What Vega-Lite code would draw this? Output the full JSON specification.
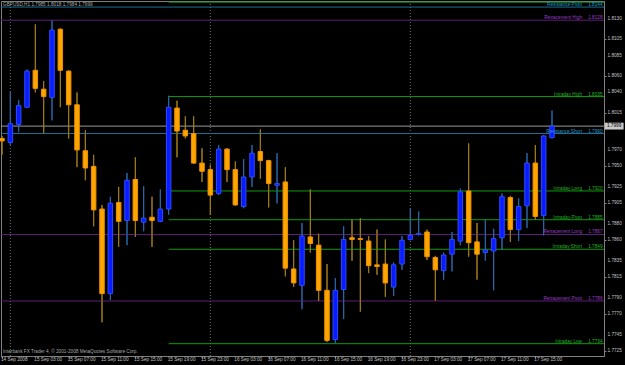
{
  "$schema": "https://vega.github.io/schema/vega-lite/v6.json",
  "width": 603,
  "height": 355,
  "autosize": "none",
  "padding": {"left": 1, "top": 1, "right": 21, "bottom": 9},
  "background": "#000000",
  "config": {
    "view": {"stroke": "#808080", "strokeWidth": 1},
    "font": "Liberation Sans",
    "axis": {"grid": false, "domainColor": "#808080", "tickColor": "#808080", "labels": false, "tickSize": 2, "title": null}
  },
  "datasets": {
    "candles": [
      {"t": -1, "o": 1.7984, "h": 1.7987, "l": 1.7964, "c": 1.7981},
      {"t": 0, "o": 1.7979, "h": 1.8041, "l": 1.7976, "c": 1.8002},
      {"t": 1, "o": 1.8001, "h": 1.8031, "l": 1.7992, "c": 1.8024},
      {"t": 2, "o": 1.8022, "h": 1.8068, "l": 1.8021, "c": 1.8066},
      {"t": 3, "o": 1.8067, "h": 1.8123, "l": 1.8040, "c": 1.8045},
      {"t": 4, "o": 1.8044, "h": 1.8054, "l": 1.7990, "c": 1.8035},
      {"t": 5, "o": 1.8034, "h": 1.8128, "l": 1.8006, "c": 1.8116},
      {"t": 6, "o": 1.8117, "h": 1.8118, "l": 1.8022, "c": 1.8067},
      {"t": 7, "o": 1.8066, "h": 1.8067, "l": 1.7984, "c": 1.8025},
      {"t": 8, "o": 1.8025, "h": 1.8040, "l": 1.7949, "c": 1.7970},
      {"t": 9, "o": 1.7969, "h": 1.7994, "l": 1.7933, "c": 1.7948},
      {"t": 10, "o": 1.7950, "h": 1.7964, "l": 1.7877, "c": 1.7897},
      {"t": 11, "o": 1.7898, "h": 1.7903, "l": 1.7760, "c": 1.7795},
      {"t": 12, "o": 1.7795, "h": 1.7913, "l": 1.7787, "c": 1.7905},
      {"t": 13, "o": 1.7906, "h": 1.7925, "l": 1.7852, "c": 1.7883},
      {"t": 14, "o": 1.7884, "h": 1.7942, "l": 1.7854, "c": 1.7933},
      {"t": 15, "o": 1.7934, "h": 1.7961, "l": 1.7864, "c": 1.7884},
      {"t": 16, "o": 1.7882, "h": 1.7926, "l": 1.7871, "c": 1.7887},
      {"t": 17, "o": 1.7888, "h": 1.7913, "l": 1.7852, "c": 1.7884},
      {"t": 18, "o": 1.7883, "h": 1.7922, "l": 1.7882, "c": 1.7898},
      {"t": 19, "o": 1.7898, "h": 1.8036, "l": 1.7891, "c": 1.8022},
      {"t": 20, "o": 1.8021, "h": 1.8030, "l": 1.7961, "c": 1.7993},
      {"t": 21, "o": 1.7994, "h": 1.8011, "l": 1.7984, "c": 1.7987},
      {"t": 22, "o": 1.7990, "h": 1.8011, "l": 1.7953, "c": 1.7954},
      {"t": 23, "o": 1.7954, "h": 1.7972, "l": 1.7931, "c": 1.7944},
      {"t": 24, "o": 1.7946, "h": 1.7952, "l": 1.7891, "c": 1.7915},
      {"t": 25, "o": 1.7917, "h": 1.7976, "l": 1.7915, "c": 1.7971},
      {"t": 26, "o": 1.7971, "h": 1.7972, "l": 1.7931, "c": 1.7946},
      {"t": 27, "o": 1.7946, "h": 1.7956, "l": 1.7902, "c": 1.7903},
      {"t": 28, "o": 1.7901, "h": 1.7959, "l": 1.7899, "c": 1.7937},
      {"t": 29, "o": 1.7937, "h": 1.7976, "l": 1.7925, "c": 1.7966},
      {"t": 30, "o": 1.7968, "h": 1.7995, "l": 1.7935, "c": 1.7957},
      {"t": 31, "o": 1.7957, "h": 1.7958, "l": 1.7900, "c": 1.7929},
      {"t": 32, "o": 1.7927, "h": 1.7966, "l": 1.7905, "c": 1.7929},
      {"t": 33, "o": 1.7931, "h": 1.7949, "l": 1.7816, "c": 1.7826},
      {"t": 34, "o": 1.7825, "h": 1.7860, "l": 1.7803, "c": 1.7808},
      {"t": 35, "o": 1.7805, "h": 1.7881, "l": 1.7776, "c": 1.7865},
      {"t": 36, "o": 1.7864, "h": 1.7922, "l": 1.7845, "c": 1.7856},
      {"t": 37, "o": 1.7854, "h": 1.7868, "l": 1.7786, "c": 1.7799},
      {"t": 38, "o": 1.7799, "h": 1.7831, "l": 1.7736, "c": 1.7738},
      {"t": 39, "o": 1.7739, "h": 1.7814, "l": 1.7734, "c": 1.7799},
      {"t": 40, "o": 1.7800, "h": 1.7877, "l": 1.7764, "c": 1.7861},
      {"t": 41, "o": 1.7863, "h": 1.7885, "l": 1.7835, "c": 1.7861},
      {"t": 42, "o": 1.7862, "h": 1.7887, "l": 1.7773, "c": 1.7861},
      {"t": 43, "o": 1.7859, "h": 1.7865, "l": 1.7820, "c": 1.7829},
      {"t": 44, "o": 1.7830, "h": 1.7873, "l": 1.7818, "c": 1.7828},
      {"t": 45, "o": 1.7831, "h": 1.7861, "l": 1.7791, "c": 1.7808},
      {"t": 46, "o": 1.7803, "h": 1.7833, "l": 1.7792, "c": 1.7830},
      {"t": 47, "o": 1.7831, "h": 1.7865, "l": 1.7824, "c": 1.7860},
      {"t": 48, "o": 1.7861, "h": 1.7899, "l": 1.7860, "c": 1.7866},
      {"t": 49, "o": 1.7867, "h": 1.7895, "l": 1.7866, "c": 1.7868},
      {"t": 50, "o": 1.7870, "h": 1.7873, "l": 1.7836, "c": 1.7840},
      {"t": 51, "o": 1.7839, "h": 1.7841, "l": 1.7786, "c": 1.7824},
      {"t": 52, "o": 1.7823, "h": 1.7845, "l": 1.7812, "c": 1.7842},
      {"t": 53, "o": 1.7843, "h": 1.7870, "l": 1.7822, "c": 1.7861},
      {"t": 54, "o": 1.7859, "h": 1.7923, "l": 1.7854, "c": 1.7919},
      {"t": 55, "o": 1.7920, "h": 1.7978, "l": 1.7840, "c": 1.7857},
      {"t": 56, "o": 1.7858, "h": 1.7881, "l": 1.7812, "c": 1.7843},
      {"t": 57, "o": 1.7845, "h": 1.7885, "l": 1.7835, "c": 1.7848},
      {"t": 58, "o": 1.7847, "h": 1.7874, "l": 1.7799, "c": 1.7862},
      {"t": 59, "o": 1.7863, "h": 1.7917, "l": 1.7848, "c": 1.7913},
      {"t": 60, "o": 1.7912, "h": 1.7914, "l": 1.7858, "c": 1.7873},
      {"t": 61, "o": 1.7873, "h": 1.7911, "l": 1.7859, "c": 1.7901},
      {"t": 62, "o": 1.7902, "h": 1.7966, "l": 1.7875, "c": 1.7954},
      {"t": 63, "o": 1.7954, "h": 1.7976, "l": 1.7885, "c": 1.7889},
      {"t": 64, "o": 1.7890, "h": 1.7988, "l": 1.7866, "c": 1.7987},
      {"t": 65, "o": 1.7985, "h": 1.8018, "l": 1.7984, "c": 1.7999}
    ],
    "levels": [
      {"name": "", "price": 1.8150, "kind": "intra"},
      {"name": "Resistance Pivot", "price": 1.8144, "kind": "res"},
      {"name": "Retracement High", "price": 1.8128, "kind": "ret"},
      {"name": "Intraday High", "price": 1.8035, "kind": "intra"},
      {"name": "Resistance Short", "price": 1.7990, "kind": "res"},
      {"name": "Intraday Long", "price": 1.7920, "kind": "intra"},
      {"name": "Intraday  Pivot", "price": 1.7885, "kind": "intra"},
      {"name": "Retracement Long", "price": 1.7867, "kind": "ret"},
      {"name": "Intraday Short", "price": 1.7849, "kind": "intra"},
      {"name": "Retracement Pivot", "price": 1.7786, "kind": "ret"},
      {"name": "Intraday  Low", "price": 1.7734, "kind": "intra"}
    ],
    "xticks": [
      {"t": -1, "lab": "14 Sep 2008"}, {"t": 3, "lab": "15 Sep 03:00"}, {"t": 7, "lab": "15 Sep 07:00"}, {"t": 11, "lab": "15 Sep 11:00"},
      {"t": 15, "lab": "15 Sep 15:00"}, {"t": 19, "lab": "15 Sep 19:00"}, {"t": 23, "lab": "15 Sep 23:00"}, {"t": 27, "lab": "16 Sep 03:00"},
      {"t": 31, "lab": "16 Sep 07:00"}, {"t": 35, "lab": "16 Sep 11:00"}, {"t": 39, "lab": "16 Sep 15:00"}, {"t": 43, "lab": "16 Sep 19:00"},
      {"t": 47, "lab": "16 Sep 23:00"}, {"t": 51, "lab": "17 Sep 03:00"}, {"t": 55, "lab": "17 Sep 07:00"}, {"t": 59, "lab": "17 Sep 11:00"},
      {"t": 63, "lab": "17 Sep 15:00"}
    ],
    "yticks": [
      {"p": 1.8130}, {"p": 1.8105}, {"p": 1.8085}, {"p": 1.8060}, {"p": 1.8040}, {"p": 1.8015}, {"p": 1.7970}, {"p": 1.7950}, {"p": 1.7925},
      {"p": 1.7905}, {"p": 1.7880}, {"p": 1.7860}, {"p": 1.7835}, {"p": 1.7815}, {"p": 1.7790}, {"p": 1.7770}, {"p": 1.7745}, {"p": 1.7725}
    ],
    "seps": [{"t": 0}, {"t": 24}, {"t": 48}]
  },
  "layer": [
    {
      "data": {"name": "candles"},
      "mark": {"type": "rule", "strokeWidth": 1},
      "encoding": {
        "x": {"field": "t", "type": "quantitative", "scale": {"domain": [-1.12, 71.24], "nice": false, "zero": false, "padding": 0},
          "axis": {"orient": "bottom", "values": [-1, 3, 7, 11, 15, 19, 23, 27, 31, 35, 39, 43, 47, 51, 55, 59, 63], "labels": false}},
        "y": {"field": "l", "type": "quantitative", "scale": {"domain": [1.7719, 1.81514], "nice": false, "zero": false, "padding": 0},
          "axis": {"orient": "right", "values": [1.8130, 1.8105, 1.8085, 1.8060, 1.8040, 1.8015, 1.7970, 1.7950, 1.7925, 1.7905, 1.7880, 1.7860, 1.7835, 1.7815, 1.7790, 1.7770, 1.7745, 1.7725], "labels": false}},
        "y2": {"field": "h"},
        "stroke": {"condition": {"test": "datum.c >= datum.o", "value": "#2a66a8"}, "value": "#a07c18"}
      }
    },
    {
      "data": {"name": "seps"},
      "mark": {"type": "rule", "strokeDash": [1, 2], "strokeWidth": 1, "color": "#707070"},
      "encoding": {
        "x": {"field": "t", "type": "quantitative"}
      }
    },
    {
      "data": {"values": [{"price": 1.7999}]},
      "mark": {"type": "rule", "strokeWidth": 1, "color": "#9a9a9a"},
      "encoding": {
        "y": {"field": "price", "type": "quantitative"}
      }
    },
    {
      "data": {"name": "levels"},
      "transform": [{"filter": "datum.kind != 'intra'"}],
      "mark": {"type": "rule", "strokeWidth": 1},
      "encoding": {
        "y": {"field": "price", "type": "quantitative"},
        "stroke": {"field": "kind", "type": "nominal", "scale": {"domain": ["intra", "res", "ret"], "range": ["#0e9a0e", "#1b6f90", "#5a1f7a"]}, "legend": null}
      }
    },
    {
      "data": {"name": "levels"},
      "transform": [{"filter": "datum.kind == 'intra'"}],
      "mark": {"type": "rule", "strokeWidth": 1},
      "encoding": {
        "x": {"datum": 19, "type": "quantitative"},
        "x2": {"datum": 71.24},
        "y": {"field": "price", "type": "quantitative"},
        "stroke": {"field": "kind", "type": "nominal", "scale": {"domain": ["intra", "res", "ret"], "range": ["#0e9a0e", "#1b6f90", "#5a1f7a"]}, "legend": null}
      }
    },
    {
      "data": {"name": "candles"},
      "mark": {"type": "rule", "strokeWidth": 1},
      "encoding": {
        "x": {"field": "t", "type": "quantitative"},
        "y": {"field": "l", "type": "quantitative"},
        "y2": {"field": "h"},
        "stroke": {"condition": {"test": "datum.c >= datum.o", "value": "#2a66a8"}, "value": "#a07c18"}
      }
    },
    {
      "data": {"name": "candles"},
      "mark": {"type": "bar", "size": 4.5, "strokeWidth": 1},
      "encoding": {
        "x": {"field": "t", "type": "quantitative"},
        "y": {"field": "o", "type": "quantitative"},
        "y2": {"field": "c"},
        "fill": {"condition": {"test": "datum.c >= datum.o", "value": "#0a1cff"}, "value": "#ffa500"},
        "stroke": {"condition": {"test": "datum.c >= datum.o", "value": "#2b4bff"}, "value": "#f09000"}
      }
    },
    {
      "data": {"name": "levels"},
      "transform": [{"filter": "datum.name != ''"}],
      "mark": {"type": "text", "align": "right", "baseline": "alphabetic", "fontSize": 4.7, "dx": -22, "dy": -1},
      "encoding": {
        "x": {"datum": 71.24, "type": "quantitative"},
        "y": {"field": "price", "type": "quantitative"},
        "text": {"field": "name"},
        "fill": {"field": "kind", "type": "nominal", "scale": {"domain": ["intra", "res", "ret"], "range": ["#22b422", "#2a9ad0", "#9a3cc4"]}, "legend": null}
      }
    },
    {
      "data": {"name": "levels"},
      "transform": [{"filter": "datum.name != ''"}],
      "mark": {"type": "text", "align": "right", "baseline": "alphabetic", "fontSize": 4.7, "dx": -1.5, "dy": -1},
      "encoding": {
        "x": {"datum": 71.24, "type": "quantitative"},
        "y": {"field": "price", "type": "quantitative"},
        "text": {"field": "price", "format": ".4f"},
        "fill": {"field": "kind", "type": "nominal", "scale": {"domain": ["intra", "res", "ret"], "range": ["#22b422", "#2a9ad0", "#9a3cc4"]}, "legend": null}
      }
    },
    {
      "data": {"values": [{"txt": "GBPUSD,H1  1.7985 1.8018 1.7984 1.7999", "p": 1.81465}, {"txt": "Interbank FX Trader 4, © 2001-2008 MetaQuotes Software Corp.", "p": 1.77242}]},
      "mark": {"type": "text", "align": "left", "baseline": "middle", "fontSize": 4.7, "dx": 2, "color": "#a8a8a8"},
      "encoding": {
        "x": {"datum": -1.12, "type": "quantitative"},
        "y": {"field": "p", "type": "quantitative"},
        "text": {"field": "txt"}
      }
    },
    {
      "data": {"name": "xticks"},
      "mark": {"type": "text", "align": "left", "baseline": "top", "fontSize": 4.7, "dx": -1, "color": "#c0c0c0"},
      "encoding": {
        "x": {"field": "t", "type": "quantitative"},
        "y": {"datum": 1.77172, "type": "quantitative"},
        "text": {"field": "lab"}
      }
    },
    {
      "data": {"name": "yticks"},
      "mark": {"type": "text", "align": "left", "baseline": "middle", "fontSize": 4.7, "dx": 3.5, "color": "#c0c0c0"},
      "encoding": {
        "x": {"datum": 71.24, "type": "quantitative"},
        "y": {"field": "p", "type": "quantitative"},
        "text": {"field": "p", "format": ".4f"}
      }
    },
    {
      "data": {"values": [{"price": 1.7999}]},
      "mark": {"type": "point", "shape": "M-1,-0.36H1V0.36H-1Z", "filled": true, "fill": "#c8c8c8", "opacity": 1, "size": 361, "strokeWidth": 0},
      "encoding": {
        "x": {"datum": 72.45, "type": "quantitative"},
        "y": {"field": "price", "type": "quantitative"}
      }
    },
    {
      "data": {"values": [{"price": 1.7999}]},
      "mark": {"type": "text", "align": "center", "baseline": "middle", "fontSize": 4.7, "color": "#000000"},
      "encoding": {
        "x": {"datum": 72.45, "type": "quantitative"},
        "y": {"field": "price", "type": "quantitative"},
        "text": {"field": "price", "format": ".4f"}
      }
    }
  ]
}
